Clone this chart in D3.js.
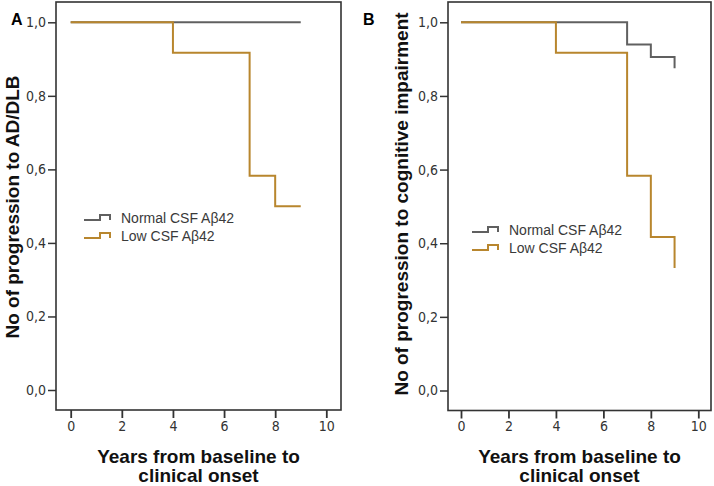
<!DOCTYPE html>
<html><head><meta charset="utf-8">
<script src="https://cdn.jsdelivr.net/npm/d3@7"></script>
<style>body{margin:0;background:#fff}svg{display:block}</style>
</head><body>
<svg id="c" width="714" height="486"></svg>
<script>
// ---- data ----
const panelLabels = ["A", "B"];
const yTitles = ["No of progression to AD/DLB", "No of progression to cognitive impairment"];
const xTitleLines = ["Years from baseline to", "clinical onset"];
const seriesNames = ["Normal CSF A\u03b242", "Low CSF A\u03b242"];
const xTicks = [0, 2, 4, 6, 8, 10];
const yTicks = [0, 0.2, 0.4, 0.6, 0.8, 1.0];
// step survival curves: times at which the value changes, values after it
const aNormalTimes = [0, 9];
const aNormalValues = [1.0, 1.0];
const aLowTimes = [0, 4, 7, 8, 9];
const aLowValues = [1.0, 0.917, 0.583, 0.5, 0.5];
const bNormalTimes = [0, 7, 8, 9];
const bNormalValues = [1.0, 0.94, 0.906, 0.875];
const bLowTimes = [0, 4, 7, 8, 9];
const bLowValues = [1.0, 0.917, 0.583, 0.417, 0.333];

const colors = ["#606060", "#b8862e"];
const svg = d3.select("#c");
const tickFont = "'Liberation Sans Narrow','Arial Narrow','DejaVu Sans Condensed',sans-serif";
const boldFont = "'Liberation Sans',Arial,sans-serif";

const panels = [
  {box: [56, 2, 341, 410], xr: [70.7, 326.3], yr: [390, 22.3], label: [11, 25], ytx: 12, leg: [84, 218],
   series: [[aNormalTimes, aNormalValues], [aLowTimes, aLowValues]]},
  {box: [448, 2, 711, 410.5], xr: [461, 698.3], yr: [390.5, 22.3], label: [363, 25], ytx: 401, leg: [472, 230],
   series: [[bNormalTimes, bNormalValues], [bLowTimes, bLowValues]]}
];

panels.forEach((p, i) => {
  const g = svg.append("g");
  const x = d3.scaleLinear().domain([0, 10]).range(p.xr);
  const y = d3.scaleLinear().domain([0, 1]).range(p.yr);
  const [x0, y0, x1, y1] = p.box;

  // frame
  g.append("rect").attr("x", x0).attr("y", y0).attr("width", x1 - x0).attr("height", y1 - y0)
    .attr("fill", "none").attr("stroke", "#333").attr("stroke-width", 1.6);

  // y axis
  const ya = d3.axisLeft(y).tickValues(yTicks).tickSize(8).tickPadding(2)
    .tickFormat(d => d3.format(".1f")(d).replace(".", ","));
  const yg = g.append("g").attr("transform", `translate(${x0},0)`).call(ya);
  yg.select(".domain").remove();
  yg.selectAll("line").attr("stroke", "#333").attr("stroke-width", 1.5);
  yg.selectAll("text").attr("font-family", tickFont).attr("font-size", 14).attr("fill", "#333");

  // x axis
  const xa = d3.axisBottom(x).tickValues(xTicks).tickSize(8).tickPadding(3);
  const xg = g.append("g").attr("transform", `translate(0,${y1})`).call(xa);
  xg.select(".domain").remove();
  xg.selectAll("line").attr("stroke", "#333").attr("stroke-width", 1.8);
  xg.selectAll("text").attr("font-family", tickFont).attr("font-size", 14).attr("fill", "#333");

  // curves
  const line = d3.line().x(d => x(d[0])).y(d => y(d[1])).curve(d3.curveStepAfter);
  p.series.forEach((s, k) => {
    const pts = s[0].map((t, j) => [t, s[1][j]]);
    g.append("path").datum(pts).attr("d", line).attr("fill", "none")
      .attr("stroke", colors[k]).attr("stroke-width", 2);
  });

  // legend
  seriesNames.forEach((n, k) => {
    const lx = p.leg[0], ly = p.leg[1] + k * 18;
    g.append("path")
      .attr("d", `M${lx},${ly + 2}H${lx + 16}V${ly - 3}H${lx + 26}V${ly + 2}`)
      .attr("fill", "none").attr("stroke", colors[k]).attr("stroke-width", 2);
    g.append("text").attr("x", lx + 37).attr("y", ly + 5).text(n)
      .attr("font-family", boldFont).attr("font-size", 14).attr("fill", "#3a3a3a");
  });

  // panel label
  g.append("text").attr("x", p.label[0]).attr("y", p.label[1]).text(panelLabels[i])
    .attr("font-family", boldFont).attr("font-weight", "bold").attr("font-size", 16);

  // y title
  const cy = i === 0 ? 207 : 204;
  g.append("text").attr("transform", `translate(${p.ytx + 7},${cy}) rotate(-90)`)
    .attr("text-anchor", "middle").text(yTitles[i])
    .attr("font-family", boldFont).attr("font-weight", "bold").attr("font-size", 19).attr("fill", "#111");

  // x title
  const cx = (x0 + x1) / 2;
  xTitleLines.forEach((t, j) => {
    g.append("text").attr("x", cx).attr("y", 463 + j * 19).attr("text-anchor", "middle").text(t)
      .attr("font-family", boldFont).attr("font-weight", "bold").attr("font-size", 19).attr("fill", "#111");
  });
});
</script>
</body></html>
